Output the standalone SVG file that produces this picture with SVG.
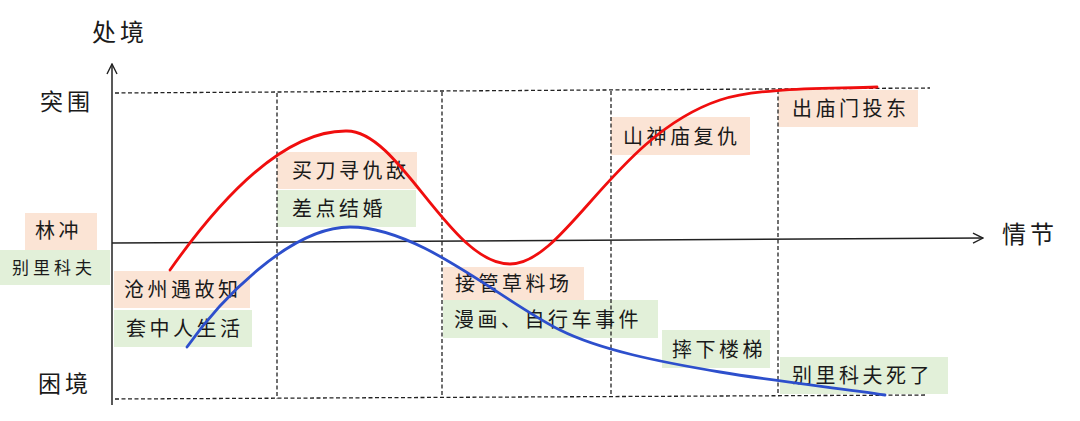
<svg xmlns="http://www.w3.org/2000/svg" width="1080" height="421" viewBox="0 0 1080 421">
<style>
text{font-family:"Noto Sans CJK SC","Noto Sans",sans-serif;fill:#1a1a1a}
.lb{font-size:20px;letter-spacing:3.5px}
.ax{font-size:23px;letter-spacing:4px}
.or{fill:#FBE4D5}
.gr{fill:#E2F0D9}
.grid{stroke:#222;stroke-width:1.3;stroke-dasharray:4 2.5;fill:none}
.axis{stroke:#222;stroke-width:1.5;fill:none}
.red{stroke:#F00E0E;stroke-width:2.8;fill:none;stroke-linecap:round}
.blue{stroke:#2D4FCC;stroke-width:2.8;fill:none;stroke-linecap:round}
</style>
<defs>
<marker id="arr" viewBox="0 0 12 12" refX="11" refY="6" markerWidth="12" markerHeight="12" markerUnits="userSpaceOnUse" orient="auto">
<path d="M1,1 L11,6 L1,11" fill="none" stroke="#222" stroke-width="1.4"/>
</marker>
</defs>
<rect width="1080" height="421" fill="#fff"/>

<g id="labels-axes">
<text class="ax" x="92" y="41" style="font-size:24px">处境</text>
<text class="ax" x="40" y="110">突围</text>
<text class="ax" x="38" y="392">困境</text>
<text class="ax" x="1002" y="243" style="font-size:24px">情节</text>
</g>

<g id="node-linchong"><rect class="or" x="25" y="213" width="72" height="37"/><text class="lb" x="35" y="238">林冲</text></g>
<g id="node-bielikefu"><rect class="gr" x="0" y="250" width="110" height="35"/><text class="lb" x="12" y="274" style="font-size:17px;letter-spacing:4px">别里科夫</text></g>
<g id="node-cangzhou"><rect class="or" x="114" y="271" width="136" height="37"/><text class="lb" x="124" y="297">沧州遇故知</text></g>
<g id="node-taozhong"><rect class="gr" x="114" y="310" width="138" height="37"/><text class="lb" x="126" y="336">套中人生活</text></g>
<g id="node-maidao"><rect class="or" x="277" y="152" width="140" height="37"/><text class="lb" x="292" y="178">买刀寻仇敌</text></g>
<g id="node-chadian"><rect class="gr" x="277" y="190" width="139" height="37"/><text class="lb" x="292" y="216">差点结婚</text></g>
<g id="node-jieguan"><rect class="or" x="443" y="267" width="141" height="33"/><text class="lb" x="455" y="291">接管草料场</text></g>
<g id="node-manhua"><rect class="gr" x="443" y="300" width="215" height="38"/><text class="lb" x="454" y="327">漫画、自行车事件</text></g>
<g id="node-shanshen"><rect class="or" x="611" y="117" width="139" height="38"/><text class="lb" x="623" y="144">山神庙复仇</text></g>
<g id="node-chumiao"><rect class="or" x="778" y="90" width="140" height="37"/><text class="lb" x="792" y="116">出庙门投东</text></g>
<g id="node-shuaixia"><rect class="gr" x="662" y="330" width="108" height="38"/><text class="lb" x="672" y="357">摔下楼梯</text></g>
<g id="node-sile"><rect class="gr" x="780" y="357" width="168" height="37"/><text class="lb" x="792" y="383">别里科夫死了</text></g>

<g id="grid">
<path class="grid" d="M115,93 L930,88"/>
<path class="grid" d="M115,399 L927,395"/>
<path class="grid" d="M277,93 V399"/>
<path class="grid" d="M442,92 V398"/>
<path class="grid" d="M611,91 V397"/>
<path class="grid" d="M778,90 V395"/>
</g>

<g id="connectors">
<path class="axis" d="M112,405 V64" marker-end="url(#arr)"/>
<path class="axis" d="M112,243 L983,238" marker-end="url(#arr)"/>
<path class="red" d="M170,270 C230,185 290,130 347,131 C400,131 450,264 510,264 C565,264 615,135 720,100 C760,87 830,89 877,87"/>
<path class="blue" d="M187,347 C220,300 290,227 350,227 C420,227 500,300 560,330 C600,350 660,362 720,372 C780,382 840,388 885,395"/>
</g>
</svg>
